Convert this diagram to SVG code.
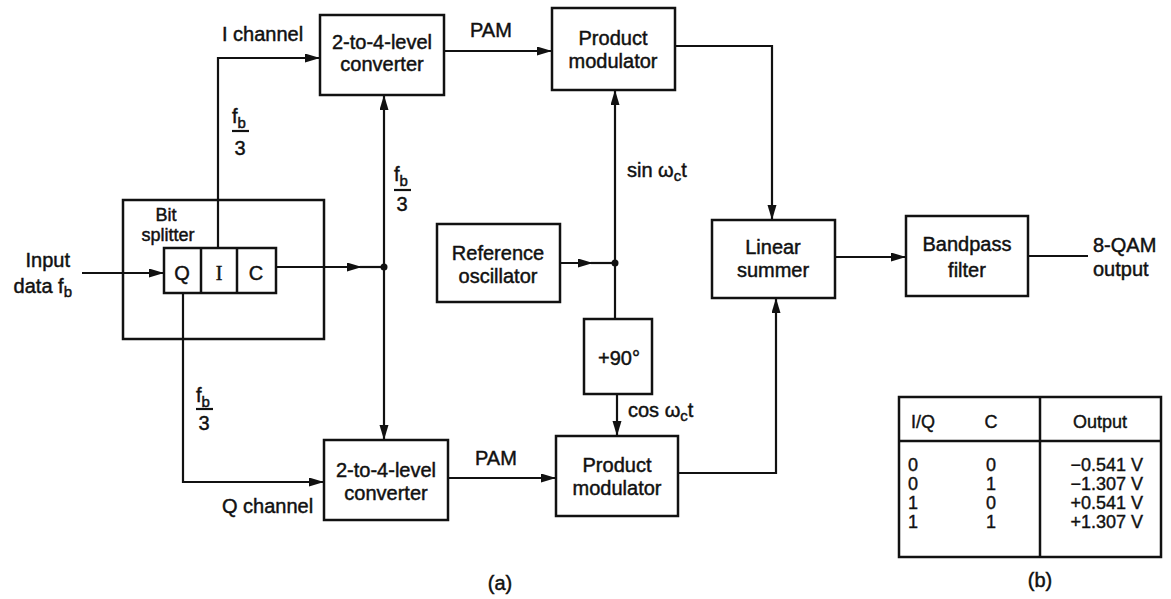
<svg xmlns="http://www.w3.org/2000/svg" width="1171" height="599" viewBox="0 0 1171 599">
<style>
.box{fill:none;stroke:#111;stroke-width:2.5}
.ln{fill:none;stroke:#111;stroke-width:2.2}
.t{font-family:"Liberation Sans",Arial,sans-serif;font-size:20px;fill:#111;stroke:#111;stroke-width:0.45}
.c{text-anchor:middle}
.s{font-size:15px}
.tb{font-family:"Liberation Sans",Arial,sans-serif;font-size:18px;fill:#111;stroke:#111;stroke-width:0.4}
</style>
<defs>
<marker id="ah" markerUnits="userSpaceOnUse" markerWidth="16" markerHeight="10" refX="15" refY="4.5" orient="auto">
<path d="M0,0 L15,4.5 L0,9 z" fill="#111"/>
</marker>
</defs>
<rect width="1171" height="599" fill="#fff"/>

<g id="connectors">
<path class="ln" d="M82,273 H164" marker-end="url(#ah)"/>
<path class="ln" d="M218,248 V58 H320" marker-end="url(#ah)"/>
<path class="ln" d="M183,293 V482 H324" marker-end="url(#ah)"/>
<path class="ln" d="M276,267 H362" marker-end="url(#ah)"/>
<path class="ln" d="M360,267 H384"/>
<circle cx="384" cy="267" r="3.5" fill="#111"/>
<path class="ln" d="M384,267 V95" marker-end="url(#ah)"/>
<path class="ln" d="M384,267 V440" marker-end="url(#ah)"/>
<path class="ln" d="M444,51 H552" marker-end="url(#ah)"/>
<path class="ln" d="M448,478 H556" marker-end="url(#ah)"/>
<path class="ln" d="M560,263 H593" marker-end="url(#ah)"/>
<path class="ln" d="M591,263 H615"/>
<circle cx="615" cy="263" r="3.5" fill="#111"/>
<path class="ln" d="M615,263 V90" marker-end="url(#ah)"/>
<path class="ln" d="M615,263 V319"/>
<path class="ln" d="M617,394 V436" marker-end="url(#ah)"/>
<path class="ln" d="M675,46 H772 V220" marker-end="url(#ah)"/>
<path class="ln" d="M678,473 H776 V298" marker-end="url(#ah)"/>
<path class="ln" d="M835,257 H906" marker-end="url(#ah)"/>
<path class="ln" d="M1028,256 H1088"/>
</g>

<g id="bit-splitter">
<rect class="box" x="123" y="200" width="201" height="139"/>
<text class="t c" x="166" y="221" style="font-size:18px">Bit</text>
<text class="t c" x="168" y="241" style="font-size:18px">splitter</text>
<rect class="box" x="164" y="248" width="112" height="45"/>
<line class="box" x1="201" y1="248" x2="201" y2="293"/>
<line class="box" x1="237" y1="248" x2="237" y2="293"/>
<text class="t c" x="182" y="280">Q</text>
<text class="t c" x="219" y="280" style="font-family:'Liberation Serif',serif">I</text>
<text class="t c" x="256" y="280">C</text>
</g>

<g id="input-label">
<text class="t" x="70" y="267" text-anchor="end">Input</text>
<text class="t" x="72" y="293" text-anchor="end">data f<tspan class="s" dy="4">b</tspan></text>
</g>

<g id="i-channel-label">
<text class="t" x="222" y="41">I channel</text>
</g>

<g id="fb3-i">
<text class="t" x="232" y="123">f<tspan class="s" dy="5">b</tspan></text>
<line class="ln" x1="232" y1="131" x2="249" y2="131"/>
<text class="t" x="240" y="155" text-anchor="middle">3</text>
</g>

<g id="fb3-mid">
<text class="t" x="394" y="181">f<tspan class="s" dy="5">b</tspan></text>
<line class="ln" x1="394" y1="190" x2="411" y2="190"/>
<text class="t" x="402" y="211" text-anchor="middle">3</text>
</g>

<g id="fb3-q">
<text class="t" x="196" y="402">f<tspan class="s" dy="5">b</tspan></text>
<line class="ln" x1="196" y1="409" x2="213" y2="409"/>
<text class="t" x="204" y="430" text-anchor="middle">3</text>
</g>

<g id="q-channel-label">
<text class="t" x="222" y="513">Q channel</text>
</g>

<g id="converter-i">
<rect class="box" x="320" y="15" width="124" height="80"/>
<text class="t c" x="382" y="49">2-to-4-level</text>
<text class="t c" x="382" y="71">converter</text>
</g>

<g id="converter-q">
<rect class="box" x="324" y="440" width="124" height="80"/>
<text class="t c" x="386" y="477">2-to-4-level</text>
<text class="t c" x="386" y="500">converter</text>
</g>

<g id="pam-labels">
<text class="t" x="470" y="37">PAM</text>
<text class="t" x="475" y="465">PAM</text>
</g>

<g id="modulator-i">
<rect class="box" x="552" y="8" width="123" height="82"/>
<text class="t c" x="613" y="45">Product</text>
<text class="t c" x="613" y="68">modulator</text>
</g>

<g id="modulator-q">
<rect class="box" x="556" y="436" width="122" height="80"/>
<text class="t c" x="617" y="472">Product</text>
<text class="t c" x="617" y="495">modulator</text>
</g>

<g id="reference-oscillator">
<rect class="box" x="437" y="224" width="123" height="78"/>
<text class="t c" x="498" y="260">Reference</text>
<text class="t c" x="498" y="283">oscillator</text>
</g>

<g id="sin-label">
<text class="t" x="627" y="177">sin ω<tspan class="s" dy="4">c</tspan><tspan dy="-4">t</tspan></text>
</g>

<g id="phase-shift">
<rect class="box" x="584" y="319" width="68" height="75"/>
<text class="t c" x="619" y="365">+90°</text>
</g>

<g id="cos-label">
<text class="t" x="628" y="417">cos ω<tspan class="s" dy="4">c</tspan><tspan dy="-4">t</tspan></text>
</g>

<g id="linear-summer">
<rect class="box" x="712" y="220" width="123" height="78"/>
<text class="t c" x="773" y="254">Linear</text>
<text class="t c" x="773" y="277">summer</text>
</g>

<g id="bandpass-filter">
<rect class="box" x="906" y="216" width="122" height="80"/>
<text class="t c" x="967" y="251">Bandpass</text>
<text class="t c" x="967" y="277">filter</text>
</g>

<g id="output-label">
<text class="t" x="1093" y="252">8-QAM</text>
<text class="t" x="1093" y="276">output</text>
</g>

<text class="t c" x="500" y="590">(a)</text>

<g id="table">
<rect class="box" x="899" y="397" width="262" height="160"/>
<line class="box" x1="899" y1="441" x2="1161" y2="441"/>
<line class="box" x1="1040" y1="397" x2="1040" y2="557"/>
<text class="tb" x="911" y="428">I/Q</text>
<text class="tb" x="991" y="428" text-anchor="middle">C</text>
<text class="tb" x="1100" y="428" text-anchor="middle">Output</text>
<text class="tb" x="913" y="471" text-anchor="middle">0</text>
<text class="tb" x="991" y="471" text-anchor="middle">0</text>
<text class="tb" x="1143" y="471" text-anchor="end">−0.541 V</text>
<text class="tb" x="913" y="490" text-anchor="middle">0</text>
<text class="tb" x="991" y="490" text-anchor="middle">1</text>
<text class="tb" x="1143" y="490" text-anchor="end">−1.307 V</text>
<text class="tb" x="913" y="509" text-anchor="middle">1</text>
<text class="tb" x="991" y="509" text-anchor="middle">0</text>
<text class="tb" x="1143" y="509" text-anchor="end">+0.541 V</text>
<text class="tb" x="913" y="528" text-anchor="middle">1</text>
<text class="tb" x="991" y="528" text-anchor="middle">1</text>
<text class="tb" x="1143" y="528" text-anchor="end">+1.307 V</text>
<text class="t c" x="1040" y="587">(b)</text>
</g>
</svg>
